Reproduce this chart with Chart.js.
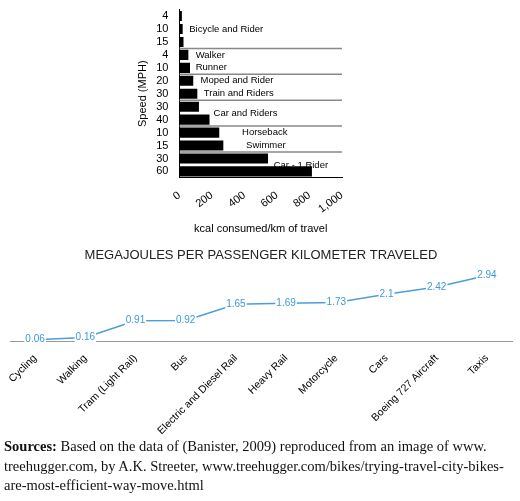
<!DOCTYPE html><html><head><script src="https://cdn.jsdelivr.net/npm/chart.js@4"></script>
<style>body{margin:0;width:520px;height:501px;position:relative;background:#fff;font-family:"Liberation Serif",serif}
#c1{position:absolute;left:132px;top:0}#c2{position:absolute;left:0;top:242px}
#src{position:absolute;left:4px;top:437px;width:515px;font-size:14.5px;line-height:19.5px;color:#111}</style></head><body>
<canvas id="c1" width="222" height="240"></canvas><canvas id="c2" width="520" height="198"></canvas>
<div id="src"><b>Sources:</b> Based on the data of (Banister, 2009) reproduced from an image of www. treehugger.com, by A.K. Streeter, www.treehugger.com/bikes/trying-travel-city-bikes-are-most-efficient-way-move.html</div>
<script>
const speeds=["4","10","15","4","10","20","30","30","40","10","15","30","60"];
const kcal=[15,20,25,55,65,85,110,120,185,245,270,545,815];
const groupNames=["Bicycle and Rider","Walker","Runner","Moped and Rider","Train and Riders","Car and Riders","Horseback","Swimmer","Car - 1 Rider"];
const groupRows=[1,3,4,5,6,7.5,9,10,11.5];
const groupX=[60,100,100,130,150,210,385,410,580];
const separators=[2.5,4.5,6.5,8.5,10.5];
const modes=["Cycling","Walking","Tram (Light Rail)","Bus","Electric and Diesel Rail","Heavy Rail","Motorcycle","Cars","Boeing 727 Aircraft","Taxis"];
const mj=[0.06,0.16,0.91,0.92,1.65,1.69,1.73,2.1,2.42,2.94];
const F="Liberation Sans, Arial, sans-serif";
Chart.defaults.animation=false;
new Chart(document.getElementById('c1'),{type:'bar',data:{labels:speeds,datasets:[{data:kcal,backgroundColor:'#000',barPercentage:0.78,categoryPercentage:1}]},
options:{indexAxis:'y',responsive:false,layout:{padding:{top:2,right:12}},plugins:{legend:{display:false},tooltip:{enabled:false}},
scales:{x:{min:0,max:1000,ticks:{stepSize:200,color:'#000',font:{family:F,size:11},callback:v=>v.toLocaleString('en-US')},grid:{display:false},border:{color:'#000'},title:{display:true,text:'kcal consumed/km of travel',color:'#000',font:{family:F,size:11}}},
y:{ticks:{autoSkip:false,color:'#000',font:{family:F,size:11}},grid:{display:false},border:{color:'#000'},title:{display:true,text:'Speed (MPH)',color:'#000',font:{family:F,size:11}}}}},
plugins:[{afterDatasetsDraw(c){const x=c.scales.x,y=c.scales.y,ctx=c.ctx;ctx.save();ctx.strokeStyle='#888';ctx.lineWidth=1.5;
separators.forEach(s=>{const py=(y.getPixelForValue(Math.floor(s))+y.getPixelForValue(Math.ceil(s)))/2;ctx.beginPath();ctx.moveTo(x.getPixelForValue(0),py);ctx.lineTo(x.getPixelForValue(1000),py);ctx.stroke();});
ctx.fillStyle='#000';ctx.font='9.5px '+F;ctx.textBaseline='middle';
groupNames.forEach((n,i)=>{const r=groupRows[i];const py=(y.getPixelForValue(Math.floor(r))+y.getPixelForValue(Math.ceil(r)))/2;ctx.fillText(n,x.getPixelForValue(groupX[i]),py);});ctx.restore();}}]});
new Chart(document.getElementById('c2'),{type:'line',data:{labels:modes,datasets:[{data:mj,borderColor:'#4a9fd8',borderWidth:1.5,pointRadius:0,tension:0}]},
options:{responsive:false,layout:{padding:{left:10,right:8}},plugins:{legend:{display:false},tooltip:{enabled:false},title:{display:true,text:'MEGAJOULES PER PASSENGER KILOMETER TRAVELED',color:'#222',font:{family:F,size:13,weight:'normal'},padding:{top:6,bottom:6}}},
scales:{x:{offset:true,ticks:{color:'#000',font:{family:F,size:10.5},maxRotation:45,minRotation:45},grid:{display:false},border:{color:'#999'}},
y:{display:false,min:0,max:3.2}}},
plugins:[{afterDatasetsDraw(c){const m=c.getDatasetMeta(0),ctx=c.ctx;ctx.save();ctx.font='10px '+F;ctx.textAlign='center';ctx.textBaseline='middle';
m.data.forEach((p,i)=>{const t=String(mj[i]);const w=ctx.measureText(t).width;ctx.fillStyle='#fff';ctx.fillRect(p.x-w/2-1,p.y-6,w+2,12);ctx.fillStyle='#3a9ad9';ctx.fillText(t,p.x,p.y);});ctx.restore();}}]});
</script></body></html>
